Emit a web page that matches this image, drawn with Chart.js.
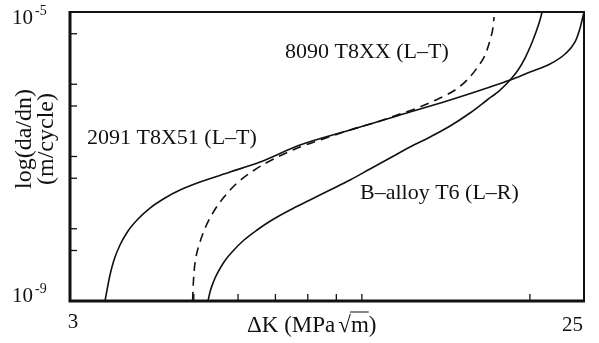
<!DOCTYPE html>
<html>
<head>
<meta charset="utf-8">
<script src="https://cdn.jsdelivr.net/npm/chart.js@4.4.1/dist/chart.umd.min.js"></script>
<style>
  body { margin: 0; background: #fff; }
  #wrap { width: 599px; height: 343px; }
</style>
</head>
<body>
<div id="wrap"><canvas id="crack-chart" width="599" height="343"></canvas></div>
<script>
// x = delta K (MPa sqrt m), y = log10(da/dn) with da/dn in m/cycle
const k2091 = [3.466, 3.495, 3.538, 3.597, 3.687, 3.811, 3.971, 4.173, 4.439, 4.723, 5.129, 5.805, 6.570,
  7.748, 9.524, 11.70, 14.39, 16.97, 18.43, 20.01, 21.73, 23.12, 24.09, 24.60, 25.0];
const logRate2091 = [-9.0, -8.848, -8.640, -8.433, -8.225, -8.031, -7.865, -7.713, -7.574, -7.464, -7.353, -7.215, -7.076,
  -6.841, -6.633, -6.426, -6.218, -6.038, -5.941, -5.830, -5.720, -5.581, -5.415, -5.221, -5.0];

const k8090 = [4.975, 4.985, 5.004, 5.045, 5.129, 5.258, 5.434, 5.663, 5.950, 6.304, 6.734, 7.253, 7.748,
  8.415, 9.524, 10.78, 11.70, 12.71, 13.81, 14.69, 15.43, 16.08, 16.62, 16.97, 17.18, 17.25];
const logRate8090 = [-9.0, -8.820, -8.599, -8.391, -8.183, -7.962, -7.754, -7.561, -7.381, -7.228, -7.090, -6.965, -6.869,
  -6.772, -6.633, -6.509, -6.412, -6.315, -6.190, -6.080, -5.941, -5.775, -5.595, -5.388, -5.208, -5.069];

const kBalloy = [5.301, 5.345, 5.412, 5.502, 5.663, 5.877, 6.150, 6.489, 6.903, 7.435, 8.074, 8.769, 9.524, 10.34,
  11.23, 12.20, 13.25, 14.39, 15.62, 16.76, 17.68, 18.43, 19.05, 19.60, 20.09, 20.51, 20.85, 21.03];
const logRateBalloy = [-9.0, -8.875, -8.751, -8.626, -8.460, -8.308, -8.156, -8.017, -7.879, -7.740, -7.602, -7.464, -7.325, -7.173,
  -7.021, -6.869, -6.730, -6.578, -6.398, -6.218, -6.080, -5.941, -5.803, -5.637, -5.457, -5.277, -5.111, -5.0];

// tick marks (no labels) and labelled ends
const minorTicksK = [5, 6, 7, 8, 9, 10, 20];
const minorTicksLog = [-8.301, -8, -7.301, -7, -6.301, -6, -5.301];
const kLabels = [3, 25];
const logLabels = [-9, -5];

const FONT = '"Liberation Serif", "Times New Roman", serif';

function toPoints(xs, ys) {
  return xs.map((x, i) => ({ x: x, y: ys[i] }));
}

function seg(ctx, x1, y1, x2, y2) {
  ctx.beginPath();
  ctx.moveTo(x1, y1);
  ctx.lineTo(x2, y2);
  ctx.stroke();
}

const frameAndText = {
  id: 'frameAndText',
  afterDraw(chart) {
    const ctx = chart.ctx;
    const xs = chart.scales.x;
    const ys = chart.scales.y;
    const a = chart.chartArea;
    ctx.save();
    ctx.strokeStyle = '#111';
    ctx.fillStyle = '#111';

    // box: thin top/right, heavy left/bottom
    ctx.lineWidth = 2;
    ctx.beginPath();
    ctx.moveTo(a.left, a.top);
    ctx.lineTo(a.right, a.top);
    ctx.lineTo(a.right, a.bottom);
    ctx.stroke();
    ctx.lineWidth = 3;
    ctx.beginPath();
    ctx.moveTo(a.left, a.top - 1);
    ctx.lineTo(a.left, a.bottom);
    ctx.lineTo(a.right + 1, a.bottom);
    ctx.stroke();

    // inward ticks
    ctx.lineWidth = 1.3;
    minorTicksK.forEach(v => {
      const px = xs.getPixelForValue(v);
      seg(ctx, px, a.bottom, px, a.bottom - 7);
    });
    minorTicksLog.forEach(v => {
      const py = ys.getPixelForValue(v);
      seg(ctx, a.left, py, a.left + 7, py);
    });

    // y end labels 10^-9, 10^-5
    ctx.textAlign = 'left';
    logLabels.forEach((e, i) => {
      const py = ys.getPixelForValue(e);
      const base = i === 0 ? py + 1 : py + 12;
      ctx.font = '21px ' + FONT;
      ctx.fillText('10', 12, base);
      ctx.font = '14px ' + FONT;
      ctx.fillText('-' + Math.abs(e), 35, base - 9);
    });

    // x end labels
    ctx.font = '21px ' + FONT;
    ctx.textAlign = 'center';
    ctx.fillText(String(kLabels[0]), xs.getPixelForValue(kLabels[0]) + 3, 328);
    ctx.textAlign = 'right';
    ctx.fillText(String(kLabels[1]), xs.getPixelForValue(kLabels[1]) - 1, 331);

    // x title with radical
    ctx.font = '23px ' + FONT;
    ctx.textAlign = 'left';
    let x = 247;
    const yb = 332;
    const t1 = '\u0394K (MPa';
    ctx.fillText(t1, x, yb);
    x += ctx.measureText(t1).width + 3;
    ctx.fillText('\u221A', x, yb);
    x += ctx.measureText('\u221A').width;
    ctx.fillText('m', x, yb);
    const mw = ctx.measureText('m').width;
    ctx.lineWidth = 1;
    seg(ctx, x - 1, yb - 20, x + mw, yb - 20);
    x += mw;
    ctx.fillText(')', x, yb);

    // y title, two rotated lines
    ctx.font = '24px ' + FONT;
    ctx.textAlign = 'center';
    [['log(da/dn)', 31], ['(m/cycle)', 53]].forEach(([txt, bx]) => {
      ctx.save();
      ctx.translate(bx, 139);
      ctx.rotate(-Math.PI / 2);
      ctx.fillText(txt, 0, 0);
      ctx.restore();
    });

    // curve labels
    ctx.font = '22px ' + FONT;
    ctx.textAlign = 'left';
    ctx.fillText('2091 T8X51 (L\u2013T)', 87, 144);
    ctx.fillText('8090 T8XX (L\u2013T)', 285, 58);
    ctx.fillText('B\u2013alloy T6 (L\u2013R)', 360, 199);
    ctx.restore();
  }
};

const lineStyle = {
  borderColor: '#111',
  borderWidth: 1.6,
  pointRadius: 0,
  cubicInterpolationMode: 'monotone',
  fill: false,
  showLine: true
};

new Chart(document.getElementById('crack-chart').getContext('2d'), {
  type: 'scatter',
  data: {
    datasets: [
      Object.assign({ label: '2091 T8X51 (L-T)', data: toPoints(k2091, logRate2091) }, lineStyle),
      Object.assign({ label: '8090 T8XX (L-T)', data: toPoints(k8090, logRate8090), borderDash: [9, 6] }, lineStyle),
      Object.assign({ label: 'B-alloy T6 (L-R)', data: toPoints(kBalloy, logRateBalloy) }, lineStyle)
    ]
  },
  options: {
    responsive: false,
    devicePixelRatio: 1,
    animation: false,
    layout: { padding: { top: 12, right: 15, left: 0, bottom: 0 } },
    plugins: {
      legend: { display: false },
      tooltip: { enabled: false }
    },
    scales: {
      x: {
        type: 'logarithmic',
        min: 3,
        max: 25,
        grid: { display: false },
        border: { display: false },
        ticks: { display: false },
        afterFit: s => { s.height = 42; }
      },
      y: {
        type: 'linear',
        min: -9,
        max: -5,
        grid: { display: false },
        border: { display: false },
        ticks: { display: false },
        afterFit: s => { s.width = 70; }
      }
    }
  },
  plugins: [frameAndText]
});
</script>
</body>
</html>
